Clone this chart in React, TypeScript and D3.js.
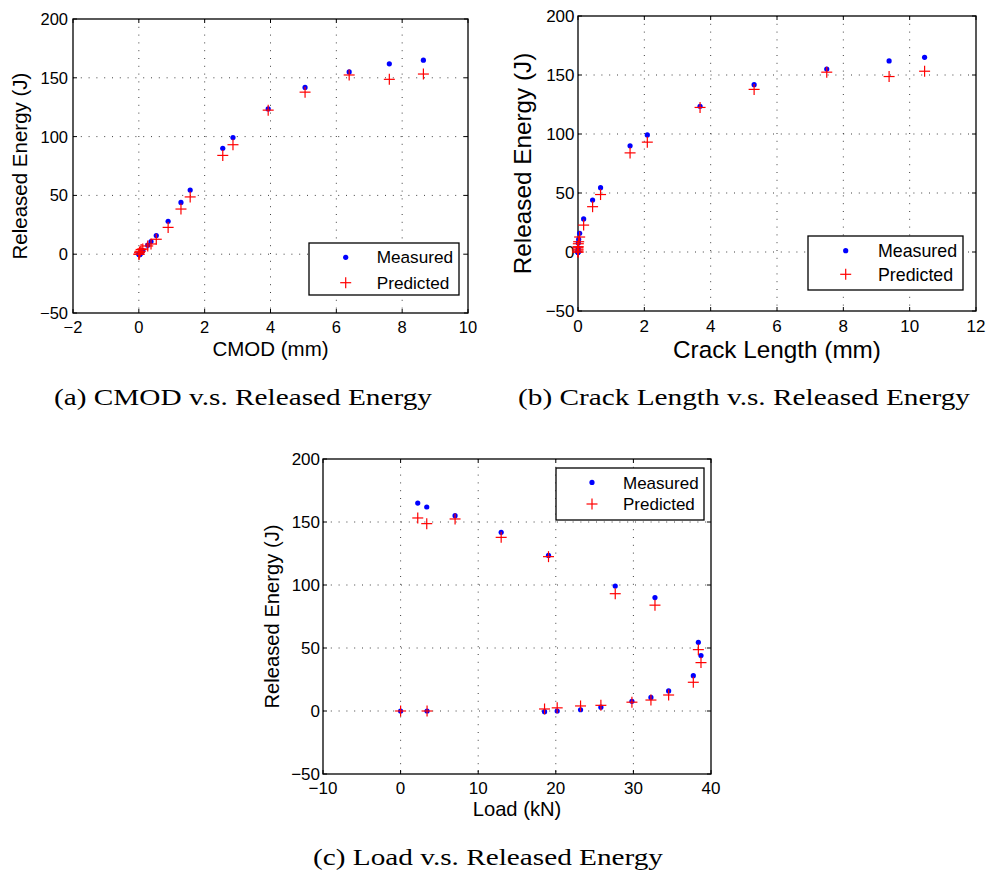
import React from "react";
import * as d3 from "d3";

// Data (same 19 observations seen from three different inputs)
const measuredEnergy = [0, 0, -0.5, 0, 1, 3, 7.7, 10.8, 15.9, 28, 44, 54.5, 90, 99.2, 123.5, 141.8, 155, 161.9, 165];
const predictedEnergy = [0, 0, 1.6, 2.5, 4, 4.5, 7, 8.7, 12.7, 22.8, 38.4, 48.7, 84, 93.1, 122.5, 137.8, 152.4, 148.7, 153.2];
const cmodMM = [0, 0.01, 0.02, 0.04, 0.07, 0.12, 0.27, 0.37, 0.53, 0.89, 1.28, 1.56, 2.55, 2.86, 3.93, 5.05, 6.39, 7.61, 8.645];
const crackLengthMM = [0, 0, 0, 0, 0, 0.005, 0.01, 0.02, 0.05, 0.17, 0.44, 0.68, 1.57, 2.09, 3.68, 5.31, 7.5, 9.38, 10.45];
const loadKN = [0, 3.41, 18.55, 20.18, 23.19, 25.81, 29.81, 32.26, 34.54, 37.72, 38.71, 38.37, 32.78, 27.66, 19.06, 12.96, 7.02, 3.37, 2.21];

const energyTicks = [-50, 0, 50, 100, 150, 200];
const cmodTicks = [-2, 0, 2, 4, 6, 8, 10];
const crackTicks = [0, 2, 4, 6, 8, 10, 12];
const loadTicks = [-10, 0, 10, 20, 30, 40];

const legendLabels = ["Measured", "Predicted"];
const yLabel = "Released Energy (J)";

const SANS = "'Liberation Sans', Arial, Helvetica, sans-serif";
const SERIF = "'Liberation Serif', 'Times New Roman', serif";

type PanelProps = {
  box: { left: number; right: number; top: number; bottom: number };
  xs: number[];
  xDomain: [number, number];
  xTicks: number[];
  xLabel: string;
  tickFont: number;
  labelFont: number;
  xTickDy: number;
  yTickDx: number;
  xLabelDy: number;
  yLabelDx: number;
  legend: { x: number; y: number; w: number; h: number; mx: number; tx: number; r1: number; r2: number; font: number };
  caption: { x: number; y: number; w: number; text: string };
};

const fmt = (v: number) => (v < 0 ? "\u2212" + Math.abs(v) : String(v));

function Plus({ x, y, s = 5.5 }: { x: number; y: number; s?: number }) {
  return (
    <g stroke="#ff0000" strokeWidth={1.2}>
      <line x1={x - s} x2={x + s} y1={y} y2={y} />
      <line x1={x} x2={x} y1={y - s} y2={y + s} />
    </g>
  );
}

function Panel(p: PanelProps) {
  const { left, right, top, bottom } = p.box;
  const x = d3.scaleLinear().domain(p.xDomain).range([left, right]);
  const y = d3.scaleLinear().domain([-50, 200]).range([bottom, top]);
  const tl = 4;
  const L = p.legend;
  return (
    <g>
      {/* grid */}
      <g stroke="#000" strokeWidth={1} strokeDasharray="1,6.8" opacity={0.75}>
        {p.xTicks.slice(1, -1).map((t) => (
          <line key={"gx" + t} x1={x(t)} x2={x(t)} y1={top} y2={bottom} />
        ))}
        {energyTicks.slice(1, -1).map((t) => (
          <line key={"gy" + t} x1={left} x2={right} y1={y(t)} y2={y(t)} />
        ))}
      </g>
      {/* ticks */}
      <g stroke="#000" strokeWidth={1}>
        {p.xTicks.map((t) => (
          <g key={"tx" + t}>
            <line x1={x(t)} x2={x(t)} y1={bottom} y2={bottom - tl} />
            <line x1={x(t)} x2={x(t)} y1={top} y2={top + tl} />
          </g>
        ))}
        {energyTicks.map((t) => (
          <g key={"ty" + t}>
            <line x1={left} x2={left + tl} y1={y(t)} y2={y(t)} />
            <line x1={right} x2={right - tl} y1={y(t)} y2={y(t)} />
          </g>
        ))}
      </g>
      <rect x={left} y={top} width={right - left} height={bottom - top} fill="none" stroke="#000" strokeWidth={1.3} />
      {/* tick labels */}
      <g fontFamily={SANS} fontSize={p.tickFont} fill="#000">
        {p.xTicks.map((t) => (
          <text key={"lx" + t} x={x(t)} y={bottom + p.xTickDy} textAnchor="middle">{fmt(t)}</text>
        ))}
        {energyTicks.map((t) => (
          <text key={"ly" + t} x={left - p.yTickDx} y={y(t) + p.tickFont * 0.36} textAnchor="end">{fmt(t)}</text>
        ))}
      </g>
      {/* axis labels */}
      <text x={(left + right) / 2} y={bottom + p.xLabelDy} textAnchor="middle" fontFamily={SANS} fontSize={p.labelFont}>{p.xLabel}</text>
      <text transform={`translate(${left - p.yLabelDx},${(top + bottom) / 2}) rotate(-90)`} textAnchor="middle" fontFamily={SANS} fontSize={p.labelFont}>{yLabel}</text>
      {/* marks */}
      <g fill="#0000ff">
        {measuredEnergy.map((e, i) => (
          <circle key={"m" + i} cx={x(p.xs[i])} cy={y(e)} r={2.6} />
        ))}
      </g>
      <g>
        {predictedEnergy.map((e, i) => (
          <Plus key={"p" + i} x={x(p.xs[i])} y={y(e)} />
        ))}
      </g>
      {/* legend */}
      <rect x={L.x} y={L.y} width={L.w} height={L.h} fill="#fff" stroke="#000" strokeWidth={1.3} />
      <circle cx={L.x + L.mx} cy={L.y + L.r1} r={2.6} fill="#0000ff" />
      <Plus x={L.x + L.mx} y={L.y + L.r2} />
      <g fontFamily={SANS} fontSize={L.font}>
        <text x={L.x + L.tx} y={L.y + L.r1 + L.font * 0.36}>{legendLabels[0]}</text>
        <text x={L.x + L.tx} y={L.y + L.r2 + L.font * 0.36}>{legendLabels[1]}</text>
      </g>
      {/* caption */}
      <text x={p.caption.x} y={p.caption.y} fontFamily={SERIF} fontSize={24} textLength={p.caption.w} lengthAdjust="spacingAndGlyphs">{p.caption.text}</text>
    </g>
  );
}

export default function App() {
  return (
    <svg width={992} height={874} style={{ position: "absolute", left: 0, top: 0, background: "#fff" }}>
      <rect width={992} height={874} fill="#fff" />
      <Panel
        box={{ left: 73, right: 468, top: 19, bottom: 313 }}
        xs={cmodMM}
        xDomain={[-2, 10]}
        xTicks={cmodTicks}
        xLabel="CMOD (mm)"
        tickFont={16.5}
        labelFont={20.5}
        xTickDy={20}
        yTickDx={5}
        xLabelDy={43}
        yLabelDx={46}
        legend={{ x: 309, y: 243, w: 150, h: 52, mx: 36.7, tx: 67.7, r1: 14.3, r2: 39.7, font: 17.2 }}
        caption={{ x: 54, y: 405, w: 378, text: "(a) CMOD v.s. Released Energy" }}
      />
      <Panel
        box={{ left: 578, right: 976, top: 16, bottom: 311 }}
        xs={crackLengthMM}
        xDomain={[0, 12]}
        xTicks={crackTicks}
        xLabel="Crack Length (mm)"
        tickFont={17}
        labelFont={24.3}
        xTickDy={21}
        yTickDx={3.5}
        xLabelDy={47}
        yLabelDx={47}
        legend={{ x: 808, y: 236, w: 155, h: 54, mx: 37.7, tx: 70, r1: 14.7, r2: 38.3, font: 17.8 }}
        caption={{ x: 518, y: 405, w: 452, text: "(b) Crack Length v.s. Released Energy" }}
      />
      <Panel
        box={{ left: 323, right: 711, top: 459, bottom: 774 }}
        xs={loadKN}
        xDomain={[-10, 40]}
        xTicks={loadTicks}
        xLabel="Load (kN)"
        tickFont={17}
        labelFont={20.2}
        xTickDy={20}
        yTickDx={3}
        xLabelDy={42}
        yLabelDx={44}
        legend={{ x: 556, y: 468, w: 148, h: 52, mx: 36, tx: 67, r1: 14.4, r2: 36, font: 17 }}
        caption={{ x: 313, y: 865, w: 350, text: "(c) Load v.s. Released Energy" }}
      />
    </svg>
  );
}
